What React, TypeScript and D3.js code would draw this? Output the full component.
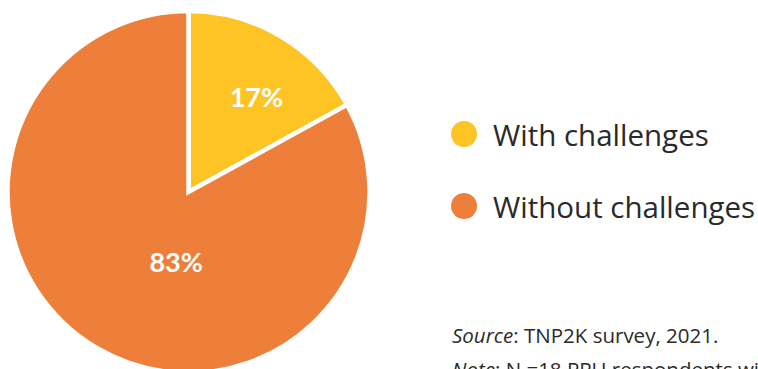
import React from "react";
import * as d3 from "d3";

const categories = ["With challenges", "Without challenges"];
const values = [17, 83];
const colors = ["#FEC424", "#EE7F3A"];
const sourceText = "TNP2K survey, 2021.";
const noteText = "N =18 PPU respondents with challenges.";

const W = 758;
const H = 369;
const cx = 188.5;
const cy = 192;
const R = 181;
// label placement (degrees clockwise from 12 o'clock, radius in px)
const labelPlacement = [
  { angle: 35.5, r: 117 },
  { angle: 190, r: 71 },
];

export default function App() {
  const pie = d3.pie<number>().sort(null).value((d) => d)(values);
  const arc = d3.arc<d3.PieArcDatum<number>>().innerRadius(0).outerRadius(R);
  const total = d3.sum(values);
  const fmt = (v: number) => `${Math.round((v / total) * 100)}%`;
  const labelFont = "Lato, 'Open Sans', sans-serif";
  const textFont = "'Open Sans', Lato, sans-serif";

  return (
    <svg
      width={W}
      height={H}
      style={{ position: "absolute", left: 0, top: 0, background: "#fff" }}
    >
      <g transform={`translate(${cx},${cy})`}>
        {pie.map((d, i) => (
          <path
            key={i}
            d={arc(d) || ""}
            fill={colors[i]}
            stroke="#fff"
            strokeWidth={4.5}
            strokeLinejoin="miter"
          />
        ))}
        {pie.map((d, i) => {
          const a = (labelPlacement[i].angle * Math.PI) / 180;
          const r = labelPlacement[i].r;
          return (
            <text
              key={"l" + i}
              x={Math.sin(a) * r}
              y={-Math.cos(a) * r}
              textAnchor="middle"
              dominantBaseline="central"
              fill="#fff"
              fontFamily={labelFont}
              fontWeight={700}
              fontSize={27}
            >
              {fmt(d.data)}
            </text>
          );
        })}
      </g>
      {categories.map((c, i) => (
        <g key={c} transform={`translate(464,${134 + i * 72})`}>
          <circle r={13} fill={colors[i]} />
          <text
            x={29}
            y={0}
            dominantBaseline="central"
            fill="#2a2a2a"
            fontFamily={textFont}
            fontWeight={400}
            fontSize={29.5}
          >
            {c}
          </text>
        </g>
      ))}
      <text x={452} y={343} fill="#2a2a2a" fontFamily={textFont} fontSize={20.5}>
        <tspan fontStyle="italic">Source</tspan>
        <tspan>: {sourceText}</tspan>
      </text>
      <text x={452} y={377} fill="#2a2a2a" fontFamily={textFont} fontSize={20.5}>
        <tspan fontStyle="italic">Note</tspan>
        <tspan>: {noteText}</tspan>
      </text>
    </svg>
  );
}
